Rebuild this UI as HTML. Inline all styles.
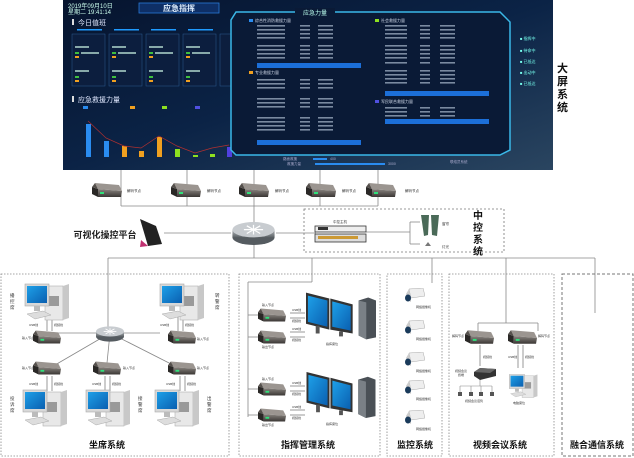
<!DOCTYPE html>
<html><head><meta charset="utf-8"><style>
html,body{margin:0;padding:0;background:#fff;width:634px;height:458px;overflow:hidden}
svg{display:block;font-family:"Liberation Sans","Noto Sans CJK SC",sans-serif}
</style></head><body>
<svg width="634" height="458" viewBox="0 0 634 458" xmlns="http://www.w3.org/2000/svg">
<defs>
<linearGradient id="bg" x1="0" y1="0" x2="1" y2="1"><stop offset="0" stop-color="#06142e"/><stop offset="0.5" stop-color="#0b2346"/><stop offset="1" stop-color="#2a4560"/></linearGradient>
<linearGradient id="dec" x1="0" y1="0" x2="0" y2="1"><stop offset="0" stop-color="#8a8580"/><stop offset="1" stop-color="#3a3634"/></linearGradient>
<linearGradient id="scr" x1="0" y1="0" x2="1" y2="1"><stop offset="0" stop-color="#1ea0e8"/><stop offset="1" stop-color="#0a5fb0"/></linearGradient>
<linearGradient id="rt" x1="0" y1="0" x2="0" y2="1"><stop offset="0" stop-color="#b8bcc0"/><stop offset="1" stop-color="#5c6266"/></linearGradient>
<symbol id="d" viewBox="0 0 30 14"><polygon points="3,0 27,2 30,8 6,6" fill="#9b9590"/><polygon points="0,4 6,6 6,14 0,11" fill="#2a2826"/><polygon points="6,6 30,8 29,14 6,14" fill="url(#dec)"/><polygon points="0,4 3,0 6,6" fill="#55504c"/><rect x="8" y="9" width="4" height="2" fill="#2fe07a"/></symbol>
<symbol id="pc" viewBox="0 0 50 40"><rect x="22" y="4" width="18" height="34" fill="#e8e8e8" stroke="#b0b0b0" stroke-width="0.6"/><polygon points="40,4 46,2 46,36 40,38" fill="#c8c8c8"/><rect x="26" y="14" width="10" height="10" fill="#9a9a9a"/><rect x="2" y="2" width="24" height="22" fill="#d8d8d8" stroke="#aaa" stroke-width="0.6"/><rect x="4" y="4" width="20" height="17" fill="url(#scr)"/><rect x="11" y="24" width="6" height="5" fill="#bbb"/><polygon points="4,32 20,29 28,33 12,37" fill="#ddd" stroke="#aaa" stroke-width="0.5"/></symbol>
<symbol id="cam" viewBox="0 0 22 15"><polygon points="6,1 20,0 22,8 8,10" fill="#eeeeee" stroke="#aaa" stroke-width="0.5"/><polygon points="6,1 8,10 8,14 5,12 3,6" fill="#ccc"/><ellipse cx="5" cy="10" rx="3" ry="3.5" fill="#1a3a5a"/></symbol>
<symbol id="router" viewBox="0 0 44 24"><ellipse cx="22" cy="16" rx="22" ry="8" fill="#555b60"/><rect x="0" y="8" width="44" height="8" fill="url(#rt)"/><ellipse cx="22" cy="8" rx="22" ry="8" fill="#c8ccd0"/><g stroke="#fff" stroke-width="1.3"><line x1="12" y1="8" x2="32" y2="8"/><line x1="22" y1="3" x2="22" y2="13"/><line x1="15" y1="4" x2="29" y2="12"/><line x1="15" y1="12" x2="29" y2="4"/></g></symbol>
<symbol id="dual" viewBox="0 0 72 48"><polygon points="0,0 24,6 24,38 0,32" fill="#333"/><polygon points="2,3 22,8 22,35 2,30" fill="url(#scr)"/><polygon points="25,6 48,12 48,42 25,38" fill="#333"/><polygon points="27,9 46,14 46,39 27,35" fill="url(#scr)"/><rect x="10" y="34" width="4" height="8" fill="#555"/><rect x="34" y="40" width="4" height="5" fill="#555"/><polygon points="54,8 64,5 72,8 72,46 62,48 54,44" fill="#4a5056"/><polygon points="54,8 62,10 62,48 54,44" fill="#7a8086"/></symbol>
</defs>

<rect x="63" y="0" width="490" height="170" fill="url(#bg)"/>
<text x="68" y="8" font-size="6" fill="#cfe" >2019年09月10日</text>
<text x="68" y="14" font-size="6" fill="#cfe">星期二 19:41:14</text>
<rect x="139" y="3" width="80" height="10" fill="#0e2f66" stroke="#2a7ad8" stroke-width="0.8"/>
<text x="179" y="11" font-size="8" fill="#dfefff" text-anchor="middle" font-weight="bold">应急指挥</text>
<rect x="72" y="19" width="2" height="6" fill="#ddd"/><text x="78" y="25" font-size="7" fill="#e0e8ff">今日值班</text>
<g fill="#0c1e3e" stroke="#2a5a90" stroke-width="0.5">
<rect x="72" y="34" width="33" height="52"/><rect x="109" y="34" width="33" height="52"/><rect x="146" y="34" width="33" height="52"/><rect x="183" y="34" width="33" height="52"/><rect x="220" y="34" width="12" height="52"/></g>
<g fill="#1f9bff"><rect x="77" y="29" width="25" height="1.5"/><rect x="114" y="29" width="25" height="1.5"/><rect x="151" y="29" width="25" height="1.5"/><rect x="188" y="29" width="25" height="1.5"/></g>
<g fill="#3fbf3f"><rect x="75" y="52" width="4" height="2"/><rect x="112" y="52" width="4" height="2"/><rect x="149" y="52" width="4" height="2"/><rect x="186" y="52" width="4" height="2"/><rect x="75" y="76" width="4" height="2"/><rect x="112" y="76" width="4" height="2"/><rect x="149" y="76" width="4" height="2"/><rect x="186" y="76" width="4" height="2"/></g>
<g fill="#f0a020"><rect x="75" y="56" width="4" height="2"/><rect x="112" y="56" width="4" height="2"/><rect x="149" y="56" width="4" height="2"/><rect x="186" y="56" width="4" height="2"/><rect x="75" y="80" width="4" height="2"/><rect x="112" y="80" width="4" height="2"/><rect x="149" y="80" width="4" height="2"/><rect x="186" y="80" width="4" height="2"/></g>
<g fill="#8aa" ><rect x="81" y="52" width="18" height="2"/><rect x="118" y="52" width="18" height="2"/><rect x="155" y="52" width="18" height="2"/><rect x="192" y="52" width="18" height="2"/><rect x="75" y="46" width="14" height="2"/><rect x="112" y="46" width="14" height="2"/><rect x="149" y="46" width="14" height="2"/><rect x="186" y="46" width="14" height="2"/><rect x="75" y="70" width="14" height="2"/><rect x="112" y="70" width="14" height="2"/><rect x="149" y="70" width="14" height="2"/><rect x="186" y="70" width="14" height="2"/></g>
<rect x="72" y="96" width="2" height="6" fill="#ddd"/><text x="78" y="102" font-size="7" fill="#e0e8ff">应急救援力量</text>
<rect x="83" y="106" width="5" height="3" fill="#2a8cf0"/><rect x="130" y="106" width="5" height="3" fill="#f0a020"/><rect x="162" y="106" width="5" height="3" fill="#8ee020"/><rect x="195" y="106" width="5" height="3" fill="#5050e0"/>
<g fill="#2a8cf0"><rect x="86" y="124" width="5" height="33"/><rect x="104" y="141" width="5" height="16"/></g>
<g fill="#f0a020"><rect x="122" y="146" width="5" height="11"/><rect x="139" y="151" width="5" height="6"/><rect x="157" y="137" width="5" height="20"/></g>
<g fill="#8ee020"><rect x="175" y="149" width="5" height="8"/><rect x="193" y="155" width="5" height="2"/><rect x="210" y="154" width="5" height="3"/></g>
<rect x="227" y="147" width="5" height="10" fill="#5040e0"/>
<polyline points="88,121 106,138 124,146 141,148 159,136 177,146 195,153 212,148 229,145" fill="none" stroke="#b03030" stroke-width="0.7"/>
<circle cx="255" cy="121" r="10" fill="none" stroke="#2bc0e0" stroke-width="2"/><circle cx="255" cy="121" r="5" fill="none" stroke="#2bc0e0" stroke-width="1"/>
<polygon points="236,12 500,12 510,22 510,150 500,155 236,155 231,150 231,20" fill="#0a1a36" stroke="#3ab8e8" stroke-width="1.5"/>
<rect x="295" y="8" width="40" height="8" fill="#0a1a36"/><text x="315" y="15" font-size="6" fill="#bfe" text-anchor="middle">应急力量</text>
<g font-size="4" fill="#cfd8e8">
<rect x="249" y="19" width="4" height="3" fill="#2a8cf0"/><text x="255" y="22">综合性消防救援力量</text>
<rect x="375" y="19" width="4" height="3" fill="#8ee020"/><text x="381" y="22">社会救援力量</text>
<rect x="249" y="71" width="4" height="3" fill="#f0a020"/><text x="255" y="74">专业救援力量</text>
<rect x="375" y="100" width="4" height="3" fill="#5050e0"/><text x="381" y="103">军民联合救援力量</text>
</g>
<g fill="#7a8aa0">
<rect x="257" y="25" width="28" height="1.6"/><rect x="300" y="25" width="10" height="1.6"/><rect x="318" y="25" width="15" height="1.6"/>
<rect x="257" y="29" width="28" height="1.6"/><rect x="300" y="29" width="10" height="1.6"/><rect x="318" y="29" width="15" height="1.6"/>
<rect x="257" y="33" width="28" height="1.6"/><rect x="300" y="33" width="10" height="1.6"/><rect x="318" y="33" width="15" height="1.6"/>
<rect x="257" y="37" width="28" height="1.6"/><rect x="300" y="37" width="10" height="1.6"/><rect x="318" y="37" width="15" height="1.6"/>
<rect x="257" y="45" width="28" height="1.6"/><rect x="300" y="45" width="10" height="1.6"/><rect x="318" y="45" width="15" height="1.6"/>
<rect x="257" y="49" width="28" height="1.6"/><rect x="300" y="49" width="10" height="1.6"/><rect x="318" y="49" width="15" height="1.6"/>
<rect x="257" y="53" width="28" height="1.6"/><rect x="300" y="53" width="10" height="1.6"/><rect x="318" y="53" width="15" height="1.6"/>
<rect x="257" y="57" width="28" height="1.6"/><rect x="300" y="57" width="10" height="1.6"/><rect x="318" y="57" width="15" height="1.6"/>
<rect x="257" y="79" width="28" height="1.6"/><rect x="300" y="79" width="10" height="1.6"/><rect x="318" y="79" width="15" height="1.6"/>
<rect x="257" y="83" width="28" height="1.6"/><rect x="300" y="83" width="10" height="1.6"/><rect x="318" y="83" width="15" height="1.6"/>
<rect x="257" y="87" width="28" height="1.6"/><rect x="300" y="87" width="10" height="1.6"/><rect x="318" y="87" width="15" height="1.6"/>
<rect x="257" y="98" width="28" height="1.6"/><rect x="300" y="98" width="10" height="1.6"/><rect x="318" y="98" width="15" height="1.6"/>
<rect x="257" y="102" width="28" height="1.6"/><rect x="300" y="102" width="10" height="1.6"/><rect x="318" y="102" width="15" height="1.6"/>
<rect x="257" y="106" width="28" height="1.6"/><rect x="300" y="106" width="10" height="1.6"/><rect x="318" y="106" width="15" height="1.6"/>
<rect x="257" y="117" width="28" height="1.6"/><rect x="300" y="117" width="10" height="1.6"/><rect x="318" y="117" width="15" height="1.6"/>
<rect x="257" y="121" width="28" height="1.6"/><rect x="300" y="121" width="10" height="1.6"/><rect x="318" y="121" width="15" height="1.6"/>
<rect x="257" y="125" width="28" height="1.6"/><rect x="300" y="125" width="10" height="1.6"/><rect x="318" y="125" width="15" height="1.6"/>
<rect x="257" y="129" width="28" height="1.6"/><rect x="300" y="129" width="10" height="1.6"/><rect x="318" y="129" width="15" height="1.6"/>
<rect x="385" y="25" width="22" height="1.6"/><rect x="420" y="25" width="10" height="1.6"/><rect x="440" y="25" width="15" height="1.6"/>
<rect x="385" y="29" width="22" height="1.6"/><rect x="420" y="29" width="10" height="1.6"/><rect x="440" y="29" width="15" height="1.6"/>
<rect x="385" y="33" width="22" height="1.6"/><rect x="420" y="33" width="10" height="1.6"/><rect x="440" y="33" width="15" height="1.6"/>
<rect x="385" y="37" width="22" height="1.6"/><rect x="420" y="37" width="10" height="1.6"/><rect x="440" y="37" width="15" height="1.6"/>
<rect x="385" y="45" width="22" height="1.6"/><rect x="420" y="45" width="10" height="1.6"/><rect x="440" y="45" width="15" height="1.6"/>
<rect x="385" y="49" width="22" height="1.6"/><rect x="420" y="49" width="10" height="1.6"/><rect x="440" y="49" width="15" height="1.6"/>
<rect x="385" y="53" width="22" height="1.6"/><rect x="420" y="53" width="10" height="1.6"/><rect x="440" y="53" width="15" height="1.6"/>
<rect x="385" y="57" width="22" height="1.6"/><rect x="420" y="57" width="10" height="1.6"/><rect x="440" y="57" width="15" height="1.6"/>
<rect x="385" y="62" width="22" height="1.6"/><rect x="420" y="62" width="10" height="1.6"/><rect x="440" y="62" width="15" height="1.6"/>
<rect x="385" y="70" width="22" height="1.6"/><rect x="420" y="70" width="10" height="1.6"/><rect x="440" y="70" width="15" height="1.6"/>
<rect x="385" y="74" width="22" height="1.6"/><rect x="420" y="74" width="10" height="1.6"/><rect x="440" y="74" width="15" height="1.6"/>
<rect x="385" y="78" width="22" height="1.6"/><rect x="420" y="78" width="10" height="1.6"/><rect x="440" y="78" width="15" height="1.6"/>
<rect x="385" y="82" width="22" height="1.6"/><rect x="420" y="82" width="10" height="1.6"/><rect x="440" y="82" width="15" height="1.6"/>
<rect x="385" y="107" width="22" height="1.6"/><rect x="420" y="107" width="10" height="1.6"/><rect x="440" y="107" width="15" height="1.6"/>
<rect x="385" y="111" width="22" height="1.6"/><rect x="420" y="111" width="10" height="1.6"/><rect x="440" y="111" width="15" height="1.6"/>
<rect x="385" y="115" width="22" height="1.6"/><rect x="420" y="115" width="10" height="1.6"/><rect x="440" y="115" width="15" height="1.6"/>
</g>
<g fill="#1c6fd8"><rect x="257" y="63" width="104" height="5"/><rect x="257" y="140" width="104" height="5"/><rect x="385" y="91" width="104" height="5"/><rect x="385" y="119" width="104" height="5"/></g>
<g fill="#7fe" font-size="4"><text x="520" y="40">■ 指挥中</text><text x="520" y="52">■ 待命中</text><text x="520" y="63">■ 已抵达</text><text x="520" y="74">■ 出动中</text><text x="520" y="85">■ 已抵达</text></g>
<rect x="313" y="158" width="14" height="2" fill="#2a8cf0"/><rect x="315" y="163" width="70" height="2" fill="#2a8cf0"/>
<g font-size="3.5" fill="#aac"><text x="283" y="160">路面救援</text><text x="287" y="165">救援力量</text><text x="330" y="160">400</text><text x="388" y="165">3000</text><text x="450" y="163">联络员系统</text></g>
<text font-size="11" font-weight="bold" fill="#111"><tspan x="557" y="72">大</tspan><tspan x="557" y="85">屏</tspan><tspan x="557" y="98">系</tspan><tspan x="557" y="111">统</tspan></text>

<g stroke="#888" stroke-width="0.8" fill="none">
<line x1="121" y1="170" x2="121" y2="206"/><line x1="187" y1="170" x2="187" y2="206"/><line x1="254" y1="170" x2="254" y2="226"/><line x1="320" y1="170" x2="320" y2="206"/><line x1="378" y1="170" x2="378" y2="206"/>
<line x1="121" y1="206" x2="378" y2="206"/>
<line x1="164" y1="233" x2="231" y2="233"/><line x1="276" y1="233" x2="316" y2="233"/>
<line x1="366" y1="232" x2="410" y2="232"/><line x1="410" y1="222" x2="410" y2="244"/><line x1="410" y1="222" x2="420" y2="222"/><line x1="410" y1="244" x2="420" y2="244"/>
<line x1="254" y1="244" x2="254" y2="258"/>
<line x1="108" y1="258" x2="595" y2="258"/>
<line x1="108" y1="258" x2="108" y2="333"/>
<line x1="312" y1="258" x2="312" y2="282"/><line x1="248" y1="282" x2="312" y2="282"/>
<line x1="248" y1="282" x2="248" y2="417"/>
<line x1="248" y1="315" x2="258" y2="315"/><line x1="248" y1="337" x2="258" y2="337"/><line x1="248" y1="389" x2="258" y2="389"/><line x1="248" y1="415" x2="258" y2="415"/>
<line x1="432" y1="258" x2="432" y2="283"/>
<line x1="506" y1="258" x2="506" y2="323"/><line x1="478" y1="323" x2="538" y2="323"/><line x1="478" y1="323" x2="478" y2="331"/><line x1="538" y1="323" x2="538" y2="331"/>
<line x1="595" y1="258" x2="595" y2="313"/>
<line x1="55" y1="333" x2="160" y2="333"/><line x1="110" y1="333" x2="55" y2="365"/><line x1="110" y1="333" x2="107" y2="363"/><line x1="110" y1="333" x2="175" y2="366"/>
</g>
<g fill="none" stroke="#aaa" stroke-width="1.2">
<line x1="47" y1="316" x2="47" y2="331"/><line x1="52" y1="316" x2="52" y2="331"/>
<line x1="178" y1="316" x2="178" y2="331"/><line x1="183" y1="316" x2="183" y2="331"/>
<line x1="47" y1="376" x2="47" y2="391"/><line x1="52" y1="376" x2="52" y2="391"/>
<line x1="105" y1="376" x2="105" y2="391"/><line x1="110" y1="376" x2="110" y2="391"/>
<line x1="180" y1="376" x2="180" y2="391"/><line x1="185" y1="376" x2="185" y2="391"/>
<line x1="290" y1="313" x2="305" y2="313"/><line x1="290" y1="318" x2="305" y2="318"/><line x1="290" y1="332" x2="305" y2="332"/><line x1="290" y1="337" x2="305" y2="337"/>
<line x1="290" y1="386" x2="305" y2="386"/><line x1="290" y1="391" x2="305" y2="391"/><line x1="290" y1="410" x2="305" y2="410"/><line x1="290" y1="415" x2="305" y2="415"/>
<line x1="480" y1="345" x2="480" y2="366"/><line x1="518" y1="345" x2="518" y2="368"/><line x1="523" y1="345" x2="523" y2="368"/>
</g>
<g font-size="3.5" fill="#333">
<use href="#d" x="92" y="183" width="30" height="14"/><text x="127" y="192">解码节点</text>
<use href="#d" x="171" y="183" width="30" height="14"/><text x="207" y="192">解码节点</text>
<use href="#d" x="239" y="183" width="30" height="14"/><text x="275" y="192">解码节点</text>
<use href="#d" x="306" y="183" width="30" height="14"/><text x="342" y="192">解码节点</text>
<use href="#d" x="366" y="183" width="30" height="14"/><text x="405" y="192">解码节点</text>
</g>
<polygon points="140,219 156,226 162,244 148,246" fill="#222"/><polygon points="141,240 148,246 140,247" fill="#c03070"/>
<text x="105" y="238" font-size="9" font-weight="bold" fill="#222" text-anchor="middle">可视化操控平台</text>
<use href="#router" x="231" y="222" width="45" height="23"/>
<rect x="304" y="209" width="200" height="43" fill="none" stroke="#777" stroke-width="0.8" stroke-dasharray="2,2"/>
<rect x="315" y="226" width="51" height="6" fill="#eee" stroke="#333" stroke-width="0.8"/><rect x="318" y="227" width="10" height="3" fill="#333"/>
<rect x="315" y="234" width="51" height="8" fill="#ddd" stroke="#333" stroke-width="0.8"/><rect x="318" y="236" width="40" height="3" fill="#c93"/>
<text x="340" y="223" font-size="3.5" fill="#333" text-anchor="middle">中控主机</text>
<polygon points="421,215 429,215 428,235 424,236" fill="#4a6a58"/><polygon points="431,215 439,215 437,236 432,235" fill="#4a6a58"/>
<text x="442" y="225" font-size="3.5" fill="#333">窗帘</text><text x="442" y="248" font-size="3.5" fill="#333">灯光</text>
<polygon points="425,246 428,242 431,246" fill="#777"/>
<text font-size="10" font-weight="bold" fill="#111"><tspan x="473" y="219">中</tspan><tspan x="473" y="231">控</tspan><tspan x="473" y="243">系</tspan><tspan x="473" y="255">统</tspan></text>

<g fill="none" stroke="#888" stroke-width="0.8" stroke-dasharray="1.5,1.5">
<rect x="1" y="274" width="228" height="182"/><rect x="239" y="274" width="141" height="182"/><rect x="387" y="274" width="55" height="182"/><rect x="449" y="274" width="105" height="182"/>
</g>
<rect x="562" y="274" width="71" height="182" fill="none" stroke="#777" stroke-width="1" stroke-dasharray="3,2"/>
<g font-size="9" font-weight="bold" fill="#111" text-anchor="middle">
<text x="107" y="448">坐席系统</text><text x="308" y="448">指挥管理系统</text><text x="415" y="448">监控系统</text><text x="500" y="448">视频会议系统</text><text x="597" y="448">融合通信系统</text></g>
<use href="#pc" x="23" y="282" width="50" height="40"/><use href="#pc" x="158" y="282" width="50" height="40"/>
<use href="#pc" x="21" y="388" width="50" height="40"/><use href="#pc" x="84" y="388" width="50" height="40"/><use href="#pc" x="153" y="388" width="50" height="40"/>
<use href="#router" x="96" y="326" width="28" height="16"/>
<use href="#d" x="33" y="330" width="28" height="14"/><use href="#d" x="168" y="330" width="28" height="14"/>
<use href="#d" x="33" y="361" width="28" height="14"/><use href="#d" x="93" y="361" width="28" height="14"/><use href="#d" x="168" y="361" width="28" height="14"/>
<g font-size="4.5" fill="#333">
<text x="10" y="297">播</text><text x="10" y="303">控</text><text x="10" y="309">席</text>
<text x="215" y="297">转</text><text x="215" y="303">警</text><text x="215" y="309">席</text>
<text x="10" y="400">投</text><text x="10" y="406">诉</text><text x="10" y="412">席</text>
<text x="138" y="400">接</text><text x="138" y="406">警</text><text x="138" y="412">席</text>
<text x="207" y="400">出</text><text x="207" y="406">警</text><text x="207" y="412">席</text>
</g>
<g font-size="3" fill="#333">
<text x="29" y="326">USB线</text><text x="54" y="326">视频线</text><text x="160" y="326">USB线</text><text x="185" y="326">视频线</text>
<text x="22" y="339">输入节点</text><text x="197" y="340">输入节点</text>
<text x="22" y="369">输入节点</text><text x="123" y="369">输入节点</text><text x="197" y="369">输入节点</text>
<text x="29" y="385">USB线</text><text x="54" y="385">视频线</text><text x="92" y="385">USB线</text><text x="112" y="385">视频线</text><text x="166" y="385">USB线</text><text x="187" y="385">视频线</text>
</g>
<use href="#d" x="258" y="308" width="28" height="14"/><use href="#d" x="258" y="330" width="28" height="14"/>
<use href="#d" x="258" y="382" width="28" height="14"/><use href="#d" x="258" y="408" width="28" height="14"/>
<use href="#dual" x="306" y="292" width="70" height="48"/><use href="#dual" x="306" y="372" width="70" height="46"/>
<g font-size="3" fill="#333">
<text x="262" y="306">输入节点</text><text x="262" y="348">输出节点</text><text x="262" y="380">输入节点</text><text x="262" y="426">输出节点</text>
<text x="292" y="311">USB线</text><text x="292" y="322">视频线</text><text x="292" y="330">USB线</text><text x="292" y="341">视频线</text>
<text x="292" y="384">USB线</text><text x="292" y="395">视频线</text><text x="292" y="408">USB线</text><text x="292" y="419">视频线</text>
<text x="326" y="345">指挥席位</text><text x="326" y="425">指挥席位</text>
</g>
<use href="#cam" x="403" y="288" width="22" height="15"/><use href="#cam" x="403" y="320" width="22" height="15"/><use href="#cam" x="403" y="352" width="22" height="15"/><use href="#cam" x="403" y="380" width="22" height="15"/><use href="#cam" x="403" y="410" width="22" height="15"/>
<g font-size="3" fill="#333"><text x="416" y="308">网络摄像机</text><text x="416" y="340">网络摄像机</text><text x="416" y="372">网络摄像机</text><text x="416" y="400">网络摄像机</text><text x="416" y="430">网络摄像机</text></g>
<use href="#d" x="465" y="330" width="29" height="14"/><use href="#d" x="508" y="330" width="29" height="14"/>
<polygon points="474,372 480,368 496,369 496,376 480,380 474,376" fill="#333"/><polygon points="474,372 480,368 496,369 490,373" fill="#666"/>
<use href="#pc" x="508" y="372" width="32" height="28"/>
<g stroke="#888" stroke-width="0.6"><line x1="460" y1="386" x2="492" y2="386"/><line x1="460" y1="386" x2="460" y2="392"/><line x1="471" y1="386" x2="471" y2="392"/><line x1="481" y1="386" x2="481" y2="392"/><line x1="492" y1="386" x2="492" y2="392"/><line x1="480" y1="380" x2="480" y2="386"/></g>
<g fill="#555"><rect x="458" y="392" width="4" height="4"/><rect x="469" y="392" width="4" height="4"/><rect x="479" y="392" width="4" height="4"/><rect x="490" y="392" width="4" height="4"/></g>
<g font-size="3" fill="#333"><text x="452" y="337">解码节点</text><text x="538" y="337">解码节点</text><text x="483" y="358">视频线</text><text x="508" y="358">USB线</text><text x="525" y="358">视频线</text><text x="455" y="372">视频会议</text><text x="458" y="376">终端</text><text x="465" y="402">视频会议话筒</text><text x="513" y="404">电脑席位</text></g>
</svg>
</body></html>
